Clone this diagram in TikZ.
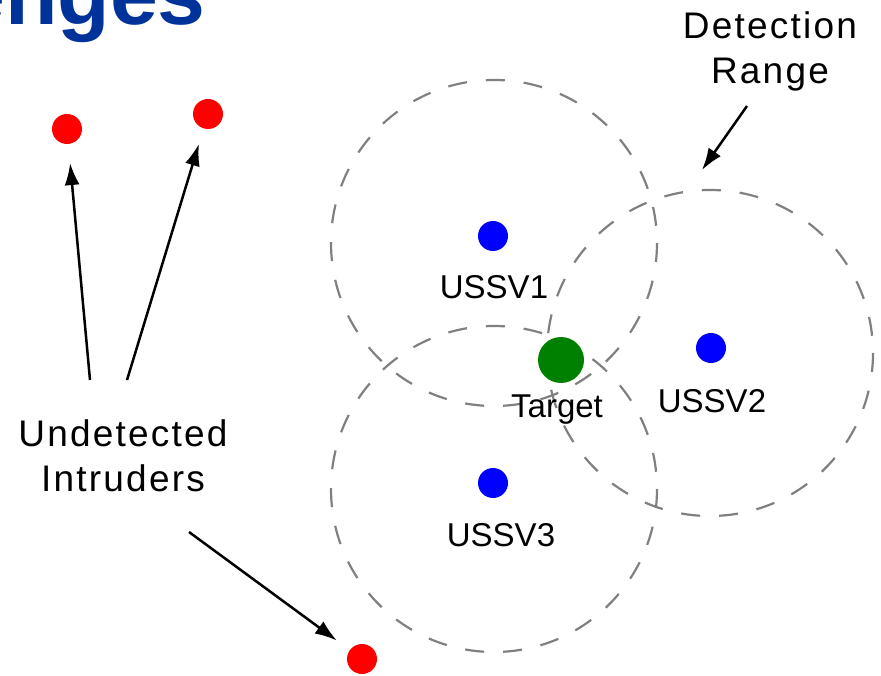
\documentclass[tikz,border=0pt]{standalone}
\usepackage{fontspec}
\setmainfont{Liberation Sans}
\usetikzlibrary{arrows.meta}
\definecolor{titleblue}{RGB}{0,51,153}
\definecolor{rangegray}{RGB}{128,128,128}
\definecolor{targetgreen}{RGB}{0,128,0}
\tikzset{
    % dashed detection circle of one USSV
    detrange/.style={draw=rangegray,line width=2.2pt,
                     dash pattern=on 19pt off 19pt},
    intruder/.style={circle,fill=red,minimum size=30pt,inner sep=0pt},
    ussv/.style={circle,fill=blue,minimum size=30pt,inner sep=0pt},
    target/.style={circle,fill=targetgreen,minimum size=46pt,inner sep=0pt},
    lbl/.style={font=\fontsize{33}{40}\selectfont,inner sep=0pt},
    biglbl/.style={font=\fontsize{37}{45}\selectfont\addfontfeature{LetterSpace=6},
                   align=center,inner sep=0pt},
    pointer/.style={-{Latex[length=22pt,width=15pt]},line width=2.5pt}
}

\begin{document}
\begin{tikzpicture}[x=1pt,y=-1pt]

  \useasboundingbox (0,0) rectangle (881,676);

  % cut-off slide title
  \node[anchor=base east,inner sep=0pt,text=titleblue,
        font=\fontsize{86}{86}\selectfont\bfseries] (title) at (206,25) {enges};

  % detection ranges
  \draw[detrange] (494,243) circle (163);
  \draw[detrange] (710,353) circle (163);
  \draw[detrange] (494,489) circle (163);

  % vehicles and target
  \node[ussv] (v1) at (493,236) {};
  \node[ussv] (v2) at (711,348) {};
  \node[ussv] (v3) at (493,483) {};
  \node[target] (tg) at (561,360) {};

  \node[lbl,anchor=base] (v1lbl) at (494,299) {USSV1};
  \node[lbl,anchor=base] (v2lbl) at (712,412) {USSV2};
  \node[lbl,anchor=base] (v3lbl) at (501,546) {USSV3};
  \node[lbl,anchor=base] (tglbl) at (557,417) {Target};

  % intruders
  \node[intruder] (i1) at (67,129) {};
  \node[intruder] (i2) at (208,114) {};
  \node[intruder] (i3) at (362,659) {};

  \node[biglbl] (intr) at (123,456) {Undetected\\Intruders};
  \node[biglbl] (det) at (770,51) {Detection\\Range};

  \coordinate (s1) at (90,380);
  \coordinate (s2) at (127,380);
  \coordinate (s3) at (189,532);
  \coordinate (s4) at (747,106);
  \coordinate (e4) at (702,170);

  \draw[pointer,shorten >=19pt] (s1) -- (i1);
  \draw[pointer,shorten >=16pt] (s2) -- (i2);
  \draw[pointer,shorten >=16pt] (s3) -- (i3);
  \draw[pointer] (s4) -- (e4);

\end{tikzpicture}
\end{document}
